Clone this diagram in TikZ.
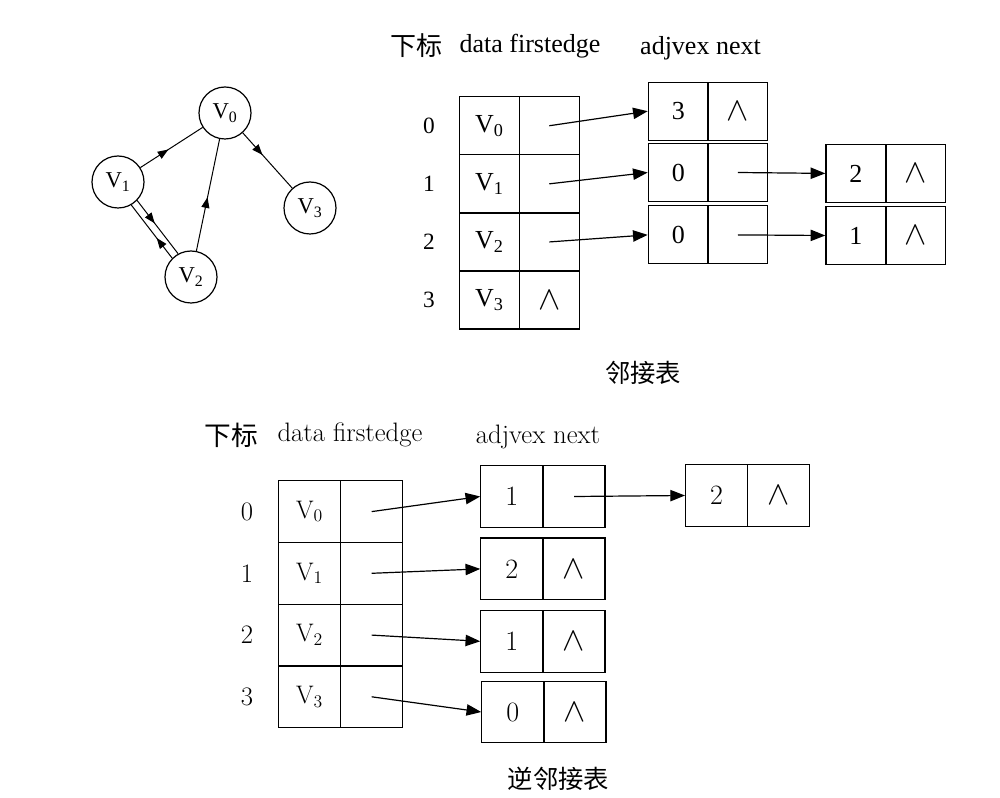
\RequirePackage{fix-cm}
\documentclass[tikz,border=0pt]{standalone}
\usepackage{fontspec}
\newfontfamily\timesfont{Liberation Serif}
\newfontfamily\cjkfont{Noto Sans CJK SC}
\usetikzlibrary{arrows.meta,decorations.markings}
\newcommand\nil{{\fontsize{25}{25}\selectfont$\wedge$}}

\tikzset{every picture/.style={line width=0.75pt}}

\begin{document}
\begin{tikzpicture}[x=0.75pt,y=0.75pt,yscale=-1,xscale=1,
	vertex/.style={draw, circle, line width=0.9pt, minimum size=39pt, inner sep=0pt, font=\timesfont\fontsize{17}{19}\selectfont},
	mid arrow/.style={postaction={decorate}, decoration={markings, mark=at position #1 with {\arrow{Triangle[length=8pt,width=6pt]}}}},
	mid arrow/.default=0.5,
	cell/.style={draw, line width=0.9pt, minimum width=45pt, minimum height=43.5pt, inner sep=0pt, font=\timesfont\fontsize{19.5}{21}\selectfont},
	rcell/.style={draw, line width=0.9pt, minimum width=46.5pt, minimum height=46.3pt, inner sep=0pt, font=\fontsize{21}{23}\selectfont},
	link/.style={line width=0.9pt, -{Triangle[length=11pt,width=8.5pt]}},
	head/.style={inner sep=0pt, font=\timesfont\fontsize{19.5}{21}\selectfont},
	rhead/.style={inner sep=0pt, font=\fontsize{20}{22}\selectfont},
	idx/.style={inner sep=0pt, font=\timesfont\fontsize{17.5}{19}\selectfont},
	ridx/.style={inner sep=0pt, font=\fontsize{20}{22}\selectfont},
	caption/.style={inner sep=0pt, font=\cjkfont\fontsize{19}{21}\selectfont}]
	\useasboundingbox (0,0) rectangle (1000,798);

	%Graph: vertices
	\node[vertex] (v0) at (225,113) {V\textsubscript{0}};
	\node[vertex] (v1) at (118,182) {V\textsubscript{1}};
	\node[vertex] (v2) at (191,277) {V\textsubscript{2}};
	\node[vertex] (v3) at (310,208) {V\textsubscript{3}};
	%Graph: arcs
	\draw[mid arrow=0.45] (v1) -- (v0);
	\draw[mid arrow=0.48] (v2) -- (v0);
	\draw[mid arrow=0.4] (v0) -- (v3);
	\draw[mid arrow=0.43] (v1.-44.8) -- (v2.119.8);
	\draw[mid arrow=0.38] (v2.135.2) -- (v1.-60.2);

	% Adjacency list: header
	\node[head] (hidx) at (416,46) {\cjkfont 下标};
	\node[head] (hvex) at (530,46) {data firstedge};
	\node[head] (hedge) at (700.5,48) {adjvex next};
	% Adjacency list: vertex table
	\node[idx] (n0) at (429,125.75) {0};
	\node[idx] (n1) at (429,183.85) {1};
	\node[idx] (n2) at (429,241.95) {2};
	\node[idx] (n3) at (429,300.05) {3};
	\node[cell] (vd0) at (489.3,125.75) {V\textsubscript{0}};
	\node[cell] (vf0) at (549.3,125.75) {};
	\node[cell] (vd1) at (489.3,183.85) {V\textsubscript{1}};
	\node[cell] (vf1) at (549.3,183.85) {};
	\node[cell] (vd2) at (489.3,241.95) {V\textsubscript{2}};
	\node[cell] (vf2) at (549.3,241.95) {};
	\node[cell] (vd3) at (489.3,300.05) {V\textsubscript{3}};
	\node[cell] (vf3) at (549.3,300.05) {\nil};
	% Adjacency list: edge nodes
	\node[cell] (e0a) at (678.3,111.2) {3};
	\node[cell] (e0n) at (737.8,111.2) {\nil};
	\node[cell] (e1a) at (678.3,172.5) {0};
	\node[cell] (e1n) at (737.8,172.5) {};
	\node[cell] (e2a) at (678.3,234.9) {0};
	\node[cell] (e2n) at (737.8,234.9) {};
	\node[cell] (e3a) at (855.9,173.4) {2};
	\node[cell] (e3n) at (915.4,173.4) {\nil};
	\node[cell] (e4a) at (855.9,235.5) {1};
	\node[cell] (e4n) at (915.4,235.5) {\nil};
	% Adjacency list: pointers
	\draw[link] (vf0.center) -- (e0a.west);
	\draw[link] (vf1.center) -- (e1a.west);
	\draw[link] (vf2.center) -- (e2a.west);
	\draw[link] (e1n.center) -- (e3a.west);
	\draw[link] (e2n.center) -- (e4a.west);
	\node[caption] (cap) at (643,373) {邻接表};

	% Inverse adjacency list: header
	\node[rhead] (ridxh) at (231,435) {\cjkfont 下标};
	\node[rhead] (rvexh) at (350,435) {data firstedge};
	\node[rhead] (redgeh) at (538,437) {adjvex next};
	% Inverse adjacency list: vertex table
	\node[ridx] (m0) at (247,511.6) {0};
	\node[ridx] (m1) at (247,573.3) {1};
	\node[ridx] (m2) at (247,635.1) {2};
	\node[ridx] (m3) at (247,696.8) {3};
	\node[rcell, font=\fontsize{19}{21}\selectfont] (rd0) at (309.5,511.6) {V\textsubscript{0}};
	\node[rcell] (rf0) at (371.7,511.6) {};
	\node[rcell, font=\fontsize{19}{21}\selectfont] (rd1) at (309.5,573.3) {V\textsubscript{1}};
	\node[rcell] (rf1) at (371.7,573.3) {};
	\node[rcell, font=\fontsize{19}{21}\selectfont] (rd2) at (309.5,635.1) {V\textsubscript{2}};
	\node[rcell] (rf2) at (371.7,635.1) {};
	\node[rcell, font=\fontsize{19}{21}\selectfont] (rd3) at (309.5,696.8) {V\textsubscript{3}};
	\node[rcell] (rf3) at (371.7,696.8) {};
	% Inverse adjacency list: edge nodes
	\node[rcell] (r0a) at (511.8,496.5) {1};
	\node[rcell] (r0n) at (574,496.5) {};
	\node[rcell] (r1a) at (511.8,568.9) {2};
	\node[rcell] (r1n) at (574,568.9) {\nil};
	\node[rcell] (r2a) at (511.8,641.3) {1};
	\node[rcell] (r2n) at (574,641.3) {\nil};
	\node[rcell] (r3a) at (512.8,712) {0};
	\node[rcell] (r3n) at (575,712) {\nil};
	\node[rcell] (r4a) at (716.6,495.5) {2};
	\node[rcell] (r4n) at (778.4,495.5) {\nil};
	% Inverse adjacency list: pointers
	\draw[link] (rf0.center) -- (r0a.west);
	\draw[link] (rf1.center) -- (r1a.west);
	\draw[link] (rf2.center) -- (r2a.west);
	\draw[link] (rf3.center) -- (r3a.west);
	\draw[link] (r0n.center) -- (r4a.west);
	\node[caption] (rcap) at (558.5,779) {逆邻接表};

\end{tikzpicture}
\end{document}
